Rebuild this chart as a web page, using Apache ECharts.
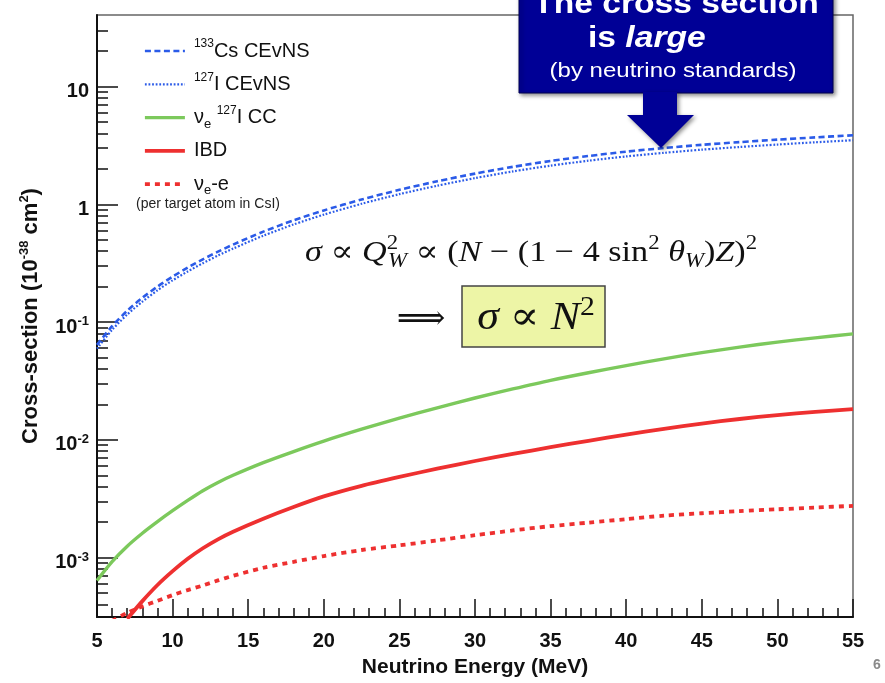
<!DOCTYPE html>
<html><head><meta charset="utf-8">
<script src="https://cdn.jsdelivr.net/npm/echarts@6/dist/echarts.min.js"></script>
<style>html,body{margin:0;padding:0;background:#fff}#c{width:885px;height:683px}</style>
</head><body><div id="c"></div>
<script>
// ---- data ----
const energy  = [5, 6, 7, 8, 9, 10, 11, 12, 13, 14, 16, 18, 20, 22.5, 25, 27.5, 30, 32.5, 35, 37.5, 40, 42.5, 45, 47.5, 50, 52.5, 55];
const csCEvNS = [0.064, 0.0925, 0.1247, 0.1607, 0.200, 0.243, 0.290, 0.341, 0.396, 0.455, 0.586, 0.731, 0.887, 1.098, 1.327, 1.568, 1.822, 2.08, 2.333, 2.57, 2.80, 3.006, 3.20, 3.373, 3.54, 3.70, 3.855];
const iCEvNS  = [0.0595, 0.086, 0.116, 0.149, 0.186, 0.226, 0.269, 0.316, 0.367, 0.421, 0.541, 0.674, 0.817, 1.01, 1.219, 1.438, 1.668, 1.902, 2.13, 2.345, 2.55, 2.735, 2.91, 3.066, 3.217, 3.362, 3.50];
const nueICC  = [6.4e-4, 9.25e-4, 1.25e-3, 1.61e-3, 2.02e-3, 2.5e-3, 3.06e-3, 3.7e-3, 4.35e-3, 5.0e-3, 6.4e-3, 7.95e-3, 9.75e-3, 0.0123, 0.0153, 0.0187, 0.02265, 0.02704, 0.0320, 0.03715, 0.04266, 0.04875, 0.05495, 0.06124, 0.0676, 0.07345, 0.0794];
const ibd     = [null, null, 3.02e-4, 4.27e-4, 5.85e-4, 7.67e-4, 9.77e-4, 1.20e-3, 1.43e-3, 1.66e-3, 2.14e-3, 2.69e-3, 3.31e-3, 4.07e-3, 4.84e-3, 5.69e-3, 6.61e-3, 7.59e-3, 8.65e-3, 9.82e-3, 0.01107, 0.01239, 0.01374, 0.01503, 0.01622, 0.01726, 0.01824];
const nueE    = [null, 2.9e-4, 3.4e-4, 3.85e-4, 4.3e-4, 4.8e-4, 5.3e-4, 5.8e-4, 6.4e-4, 7.0e-4, 8.2e-4, 9.2e-4, 1.03e-3, 1.16e-3, 1.27e-3, 1.4e-3, 1.55e-3, 1.7e-3, 1.85e-3, 1.98e-3, 2.12e-3, 2.27e-3, 2.38e-3, 2.48e-3, 2.57e-3, 2.66e-3, 2.75e-3];

const seriesNames = ['Cs', 'I', 'CC', 'IBD', 'nue'];
const legendLabels = {
  Cs:  '{sup|133}Cs CEvNS',
  I:   '{sup|127}I CEvNS',
  CC:  'ν{sub|e} {sup|127}I CC',
  IBD: 'IBD',
  nue: 'ν{sub|e}-e'
};
const yMajorTicks = [1e-3, 1e-2, 1e-1, 1, 10];
const yMinorTicks = [4e-4, 5e-4, 6e-4, 7e-4, 8e-4, 9e-4,
  2e-3, 3e-3, 4e-3, 5e-3, 6e-3, 7e-3, 8e-3, 9e-3,
  0.02, 0.03, 0.04, 0.05, 0.06, 0.07, 0.08, 0.09,
  0.2, 0.3, 0.4, 0.5, 0.6, 0.7, 0.8, 0.9,
  2, 3, 4, 5, 6, 7, 8, 9, 20, 30];
const yMin = 3.13e-4, yMax = 40.5;

function pairs(ys) { return energy.map((e, i) => [e, ys[i]]); }

const SANS = '"Liberation Sans", Arial, Helvetica, sans-serif';
const SERIF = '"Liberation Serif", "DejaVu Serif", serif';
const NAVY = '#000096';
const BLUE = '#2b5be8', GREEN = '#7cc95c', RED = '#ee3030';

const styles = {
  Cs:  {color: BLUE,  width: 2.6, type: [6, 3.5]},
  I:   {color: BLUE,  width: 2.2, type: [1.8, 1.8]},
  CC:  {color: GREEN, width: 3.4, type: 'solid'},
  IBD: {color: RED,   width: 3.8, type: 'solid'},
  nue: {color: RED,   width: 3.8, type: [5, 5]}
};

const chart = echarts.init(document.getElementById('c'), null, {renderer: 'canvas'});

function mkSeries(name, ys) {
  const s = styles[name];
  return {
    name: name, type: 'line', data: pairs(ys), symbol: 'none', smooth: 0.25,
    color: s.color, clip: true,
    lineStyle: {color: s.color, width: s.width, type: s.type, cap: 'butt'},
    emphasis: {disabled: true}
  };
}

const option = {
  animation: false,
  backgroundColor: '#ffffff',
  grid: {left: 97, right: 32, top: 15, bottom: 58, show: true, borderColor: '#666', borderWidth: 1.5, backgroundColor: 'transparent'},
  legend: {
    orient: 'vertical', left: 138, top: 33, itemWidth: 40, itemHeight: 14, itemGap: 7.3,
    selectedMode: false,
    data: seriesNames.map(n => ({name: n, lineStyle: {color: styles[n].color, width: styles[n].width, type: styles[n].type}})),
    itemStyle: {opacity: 0, borderWidth: 0},
    formatter: n => legendLabels[n],
    textStyle: {
      fontFamily: SANS, fontSize: 20, color: '#111', lineHeight: 26, padding: [0, 0, 0, 4],
      rich: {
        sup: {fontFamily: SANS, fontSize: 12, color: '#111', verticalAlign: 'top', lineHeight: 12},
        sub: {fontFamily: SANS, fontSize: 13, color: '#111', verticalAlign: 'bottom', lineHeight: 10}
      }
    }
  },
  xAxis: {
    type: 'value', min: 5, max: 55, interval: 5,
    axisLine: {show: true, lineStyle: {color: '#111', width: 2}},
    axisTick: {show: true, inside: true, length: 18, lineStyle: {color: '#111', width: 1.5}},
    minorTick: {show: true, splitNumber: 5, length: 9, lineStyle: {color: '#111', width: 1.5}},
    axisLabel: {fontFamily: SANS, fontSize: 20, fontWeight: 'bold', color: '#111', margin: 14},
    splitLine: {show: false}, minorSplitLine: {show: false},
    name: 'Neutrino Energy (MeV)', nameLocation: 'middle', nameGap: 40,
    nameTextStyle: {fontFamily: SANS, fontSize: 21, fontWeight: 'bold', color: '#111'}
  },
  yAxis: [{
    type: 'log', logBase: 10, min: yMin, max: yMax, position: 'left',
    axisLine: {show: true, lineStyle: {color: '#111', width: 2}},
    axisTick: {show: true, inside: true, length: 21, customValues: yMajorTicks, lineStyle: {color: '#111', width: 1.5}},
    minorTick: {show: false},
    axisLabel: {
      customValues: yMajorTicks, margin: 8, padding: [10, 0, 0, 0],
      fontFamily: SANS, fontSize: 20, fontWeight: 'bold', color: '#111', lineHeight: 24,
      formatter: function (v) {
        const e = Math.round(Math.log10(v));
        if (e === 1) return '10';
        if (e === 0) return '1';
        return '10{sup|' + e + '}';
      },
      rich: {sup: {fontFamily: SANS, fontSize: 13, fontWeight: 'bold', color: '#111', verticalAlign: 'top', lineHeight: 13}}
    },
    splitLine: {show: false},
    name: 'Cross-section (10{sup|-38} cm{sup|2})', nameLocation: 'middle', nameGap: 51,
    nameTextStyle: {
      fontFamily: SANS, fontSize: 22, fontWeight: 'bold', color: '#111', lineHeight: 26,
      rich: {sup: {fontFamily: SANS, fontSize: 13, fontWeight: 'bold', color: '#111', verticalAlign: 'top', lineHeight: 13}}
    }
  }, {
    type: 'log', logBase: 10, min: yMin, max: yMax, position: 'left',
    axisLine: {show: false},
    axisTick: {show: true, inside: true, length: 11, customValues: yMinorTicks, lineStyle: {color: '#111', width: 1.5}},
    axisLabel: {show: false}, splitLine: {show: false}, minorTick: {show: false}
  }],
  series: [
    mkSeries('Cs', csCEvNS),
    mkSeries('I', iCEvNS),
    mkSeries('CC', nueICC),
    mkSeries('IBD', ibd),
    mkSeries('nue', nueE)
  ],
  graphic: [
    {type: 'text', z: 50, x: 136, y: 204, style: {text: '(per target atom in CsI)', fontFamily: SANS, fontSize: 14, fill: '#222', verticalAlign: 'middle', align: 'left'}},
    // annotation box
    {type: 'rect', z: 60, shape: {x: 519, y: -20, width: 314, height: 113},
     style: {fill: NAVY, stroke: '#000050', lineWidth: 1, shadowBlur: 4, shadowColor: 'rgba(0,0,0,0.45)', shadowOffsetX: 2, shadowOffsetY: 2}},
    {type: 'polygon', z: 60, shape: {points: [[643, 92], [677, 92], [677, 115], [694, 115], [661, 148], [627, 115], [643, 115]]},
     style: {fill: NAVY, shadowBlur: 4, shadowColor: 'rgba(0,0,0,0.45)', shadowOffsetX: 2, shadowOffsetY: 2}},
    {type: 'text', z: 61, x: 676, y: 5, scaleX: 1.12, style: {text: 'The cross section', fontFamily: SANS, fontSize: 30, fontWeight: 'bold', fill: '#fff', align: 'center', verticalAlign: 'middle'}},
    {type: 'text', z: 61, x: 588, y: 39, scaleX: 1.12, style: {text: 'is {it|large}', fontFamily: SANS, fontSize: 30, fontWeight: 'bold', fill: '#fff', align: 'left', verticalAlign: 'middle',
      rich: {it: {fontFamily: SANS, fontSize: 30, fontWeight: 'bold', fontStyle: 'italic', fill: '#fff'}}}},
    {type: 'text', z: 61, x: 673, y: 71, scaleX: 1.2, style: {text: '(by neutrino standards)', fontFamily: SANS, fontSize: 20, fill: '#fff', align: 'center', verticalAlign: 'middle'}},
    // equation
    {type: 'text', z: 55, x: 305, y: 253, scaleX: 1.14,
     style: {text: '{i|σ}{r| ∝ }{i|Q}{z|2}{sb|W}{r| ∝ (}{i|N}{r| − (1 − 4 sin}{sp|2}{r| }{i|θ}{sb|W}{r|)}{i|Z}{r|)}{sp|2}',
       fill: '#111', align: 'left', verticalAlign: 'middle', fontFamily: SERIF, fontSize: 30,
       rich: {
         r: {fontFamily: SERIF, fontSize: 30, lineHeight: 38, fill: '#111'},
         i: {fontFamily: SERIF, fontSize: 30, fontStyle: 'italic', lineHeight: 38, fill: '#111'},
         sb: {fontFamily: SERIF, fontSize: 20, fontStyle: 'italic', verticalAlign: 'bottom', lineHeight: 22, fill: '#111'},
         sp: {fontFamily: SERIF, fontSize: 20, verticalAlign: 'top', lineHeight: 20, fill: '#111'},
         z: {fontFamily: SERIF, fontSize: 20, verticalAlign: 'top', lineHeight: 20, width: 1, fill: '#111'}
       }}},
    {type: 'text', z: 55, x: 421, y: 320, style: {text: '⟹', fontFamily: '"DejaVu Serif", "DejaVu Sans", serif', fontSize: 34, fill: '#111', align: 'center', verticalAlign: 'middle'}},
    {type: 'rect', z: 54, shape: {x: 462, y: 286, width: 143, height: 61}, style: {fill: '#edf5a6', stroke: '#444', lineWidth: 1.5}},
    {type: 'text', z: 55, x: 536, y: 318, scaleX: 1.1,
     style: {text: '{i|σ}{r| ∝ }{i|N}{sp|2}', align: 'center', verticalAlign: 'middle', fill: '#111', fontFamily: SERIF, fontSize: 40,
       rich: {
         r: {fontFamily: SERIF, fontSize: 40, lineHeight: 48, fill: '#111'},
         i: {fontFamily: SERIF, fontSize: 40, fontStyle: 'italic', lineHeight: 48, fill: '#111'},
         sp: {fontFamily: SERIF, fontSize: 27, verticalAlign: 'top', lineHeight: 27, fill: '#111'}
       }}},
    {type: 'text', z: 50, x: 877, y: 665, style: {text: '6', fontFamily: SANS, fontSize: 14, fontWeight: 'bold', fill: '#8a8a8a', align: 'center', verticalAlign: 'middle'}}
  ]
};
chart.setOption(option);
</script></body></html>
